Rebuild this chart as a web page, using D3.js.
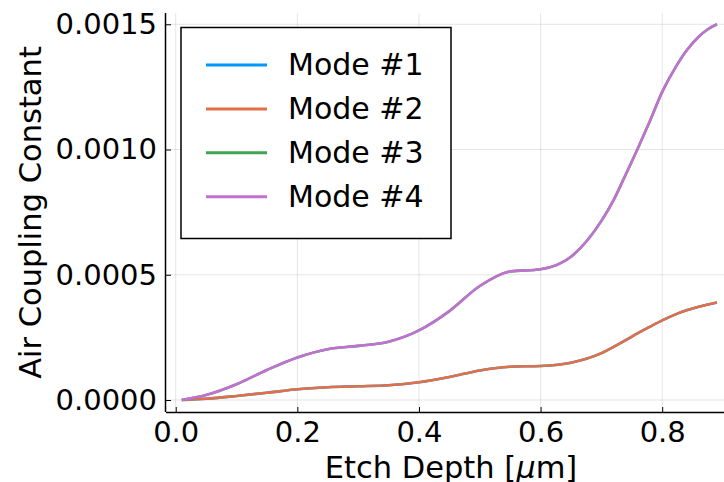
<!DOCTYPE html>
<html>
<head>
<meta charset="utf-8">
<script src="https://cdn.jsdelivr.net/npm/d3@7"></script>
<style>
  html, body { margin: 0; padding: 0; background: #fff; }
  svg { display: block; }
  text { font-family: "DejaVu Sans", sans-serif; fill: #000; }
</style>
</head>
<body>
<svg id="chart" width="724" height="482"></svg>
<script>
// ---- data ----
const etchDepth = [0.01, 0.05, 0.10, 0.15, 0.20, 0.25, 0.30, 0.35, 0.40, 0.45, 0.50, 0.55, 0.60, 0.65, 0.70, 0.72, 0.74, 0.76, 0.78, 0.80, 0.82, 0.84, 0.86, 0.875, 0.89];
// values in units of 1e-4
const mode1 = [0, 0.05, 0.16, 0.29, 0.43, 0.51, 0.55, 0.59, 0.71, 0.92, 1.18, 1.33, 1.36, 1.49, 1.87, 2.12, 2.39, 2.67, 2.93, 3.18, 3.40, 3.58, 3.72, 3.81, 3.89];
const mode2 = [0, 0.05, 0.16, 0.29, 0.43, 0.51, 0.55, 0.59, 0.71, 0.92, 1.18, 1.33, 1.36, 1.49, 1.87, 2.12, 2.39, 2.67, 2.93, 3.18, 3.40, 3.58, 3.72, 3.81, 3.89];
const mode3 = [0, 0.2, 0.63, 1.2, 1.70, 2.03, 2.16, 2.33, 2.78, 3.55, 4.55, 5.13, 5.22, 5.72, 7.15, 7.98, 9.0, 10.05, 11.15, 12.3, 13.2, 13.95, 14.5, 14.8, 15.0];
const mode4 = [0, 0.2, 0.63, 1.2, 1.70, 2.03, 2.16, 2.33, 2.78, 3.55, 4.55, 5.13, 5.22, 5.72, 7.15, 7.98, 9.0, 10.05, 11.15, 12.3, 13.2, 13.95, 14.5, 14.8, 15.0];
const seriesNames = ["Mode #1", "Mode #2", "Mode #3", "Mode #4"];
const seriesColors = ["#009AFA", "#E36F47", "#3EA44E", "#C271D2"];
const xTicks = [0.0, 0.2, 0.4, 0.6, 0.8];
const yTicks = [0.0000, 0.0005, 0.0010, 0.0015];
const xLabel = "Etch Depth [";
const yLabel = "Air Coupling Constant";

const series = [mode1, mode2, mode3, mode4].map((vals, i) => ({
  name: seriesNames[i], color: seriesColors[i],
  points: vals.map((v, j) => [etchDepth[j], v * 1e-4])
}));

// ---- layout ----
const svg = d3.select("#chart");
const pLeft = 166, pBottom = 412, pTop = 13, pRight = 733;
const x = d3.scaleLinear().domain([-0.016, 0.9164]).range([pLeft, pRight]);
const y = d3.scaleLinear().domain([-0.0000479, 0.001545]).range([pBottom, pTop]);

// grid
const grid = svg.append("g");
grid.selectAll("line.gx").data(xTicks).join("line")
  .attr("x1", d => x(d)).attr("x2", d => x(d))
  .attr("y1", pTop).attr("y2", pBottom)
  .attr("stroke", "#000").attr("stroke-opacity", 0.1).attr("stroke-width", 1);
grid.selectAll("line.gy").data(yTicks).join("line")
  .attr("x1", pLeft).attr("x2", pRight)
  .attr("y1", d => y(d)).attr("y2", d => y(d))
  .attr("stroke", "#000").attr("stroke-opacity", 0.1).attr("stroke-width", 1);

// axes
const xAxis = d3.axisBottom(x).tickValues(xTicks).tickFormat(d3.format(".1f")).tickSizeInner(-5).tickSizeOuter(0).tickPadding(9);
const yAxis = d3.axisLeft(y).tickValues(yTicks).tickFormat(d3.format(".4f")).tickSizeInner(-5).tickSizeOuter(0).tickPadding(9);

const gx = svg.append("g").attr("transform", `translate(0,${pBottom})`).call(xAxis);
const gy = svg.append("g").attr("transform", `translate(${pLeft},0)`).call(yAxis);
[gx, gy].forEach(g => {
  g.select(".domain").attr("stroke", "#000").attr("stroke-width", 1.5);
  g.selectAll(".tick line").attr("stroke", "#000").attr("stroke-width", 1);
  g.selectAll(".tick text").attr("font-family", "DejaVu Sans").attr("font-size", 29).attr("fill", "#000");
});
gx.selectAll(".tick text").attr("dy", "0.71em");
gx.select(".domain").attr("d", `M${pLeft},0.5H${pRight}`);
gy.select(".domain").attr("d", `M-0.5,${pTop}V${pBottom}`);

// lines
const line = d3.line().x(d => x(d[0])).y(d => y(d[1])).curve(d3.curveMonotoneX);
svg.append("g").selectAll("path").data(series).join("path")
  .attr("d", d => line(d.points))
  .attr("fill", "none")
  .attr("stroke", d => d.color)
  .attr("stroke-width", 2.6)
  .attr("stroke-linejoin", "round");

// axis labels
const xl = svg.append("text").attr("x", 451).attr("y", 478).attr("text-anchor", "middle").attr("font-size", 30.5);
xl.append("tspan").text(xLabel);
xl.append("tspan").attr("font-style", "italic").text("μ");
xl.append("tspan").text("m]");

svg.append("text").attr("transform", "translate(41,212.5) rotate(-90)")
  .attr("text-anchor", "middle").attr("font-size", 30.5).text(yLabel);

// legend
const lg = svg.append("g");
lg.append("rect").attr("x", 181).attr("y", 27.5).attr("width", 270).attr("height", 211)
  .attr("fill", "#fff").attr("stroke", "#000").attr("stroke-width", 1.5);
const items = lg.selectAll("g.item").data(series).join("g")
  .attr("transform", (d, i) => `translate(0,${65 + i * 43.9})`);
items.append("line").attr("x1", 206).attr("x2", 267).attr("y1", 0).attr("y2", 0)
  .attr("stroke", d => d.color).attr("stroke-width", 3);
items.append("text").attr("x", 288).attr("y", 10).attr("font-size", 30).text(d => d.name);
</script>
</body>
</html>
